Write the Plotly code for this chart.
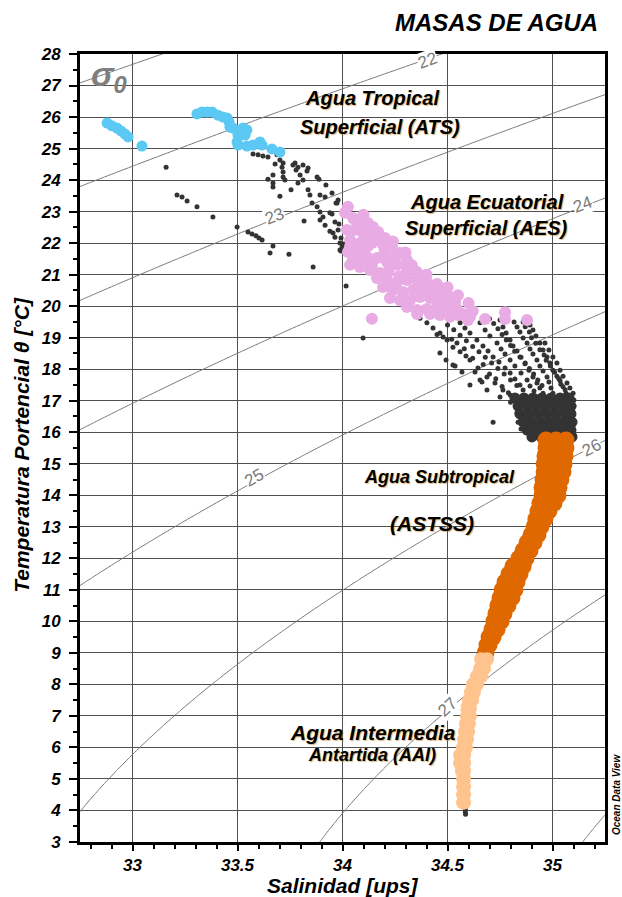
import numpy as np
import plotly.graph_objects as go

# ---------------- data ----------------
ats_S = [32.879, 32.902, 32.926, 32.945, 32.964, 32.979, 33.045,
         33.307, 33.331, 33.355, 33.379, 33.407, 33.431, 33.450, 33.460, 33.464, 33.479,
         33.502, 33.526, 33.545, 33.536, 33.498, 33.502, 33.545, 33.574, 33.607, 33.617,
         33.664, 33.702]
ats_T = [25.81, 25.72, 25.65, 25.56, 25.46, 25.37, 25.08,
         26.10, 26.16, 26.16, 26.16, 26.06, 26.00, 25.97, 25.84, 25.68, 25.65,
         25.43, 25.65, 25.59, 25.43, 25.21, 25.11, 25.08, 25.11, 25.21, 25.11,
         24.99, 24.89]

aes_S = [34.026, 34.012, 34.060, 34.021, 34.060, 34.093, 34.121, 34.145, 34.098, 34.131,
         34.179, 34.202, 34.036, 34.083, 34.140, 34.193, 34.236, 34.274, 34.307, 34.026,
         34.069, 34.117, 34.164, 34.212, 34.260, 34.307, 34.355, 34.036, 34.083, 34.131,
         34.179, 34.164, 34.212, 34.260, 34.307, 34.355, 34.402, 34.193, 34.240, 34.288,
         34.336, 34.383, 34.431, 34.479, 34.226, 34.274, 34.321, 34.369, 34.417, 34.464,
         34.512, 34.536, 34.307, 34.355, 34.402, 34.450, 34.498, 34.545, 34.574, 34.140,
         34.355, 34.417, 34.464, 34.512, 34.550, 34.598, 34.679, 34.774, 34.774, 34.879,
         34.393, 34.488, 34.607, 34.036, 34.050, 34.098, 34.117,
         34.050, 34.100, 34.170, 34.240, 34.300, 34.120, 34.200, 34.250, 34.330, 34.400,
         34.450, 34.300, 34.360, 34.500, 34.550, 34.600, 34.620, 34.400, 34.470, 34.520,
         34.090, 34.140, 34.220, 34.270]
aes_T = [23.15, 22.96, 22.73, 22.42, 22.42, 22.57, 22.64, 22.51, 22.32, 22.19,
         22.19, 22.16, 22.10, 22.00, 22.00, 21.94, 21.88, 21.69, 21.46, 21.72,
         21.69, 21.56, 21.53, 21.40, 21.31, 21.21, 21.08, 21.31, 21.24, 21.15,
         21.05, 20.89, 20.83, 20.77, 20.83, 20.83, 20.77, 20.61, 20.51, 20.45,
         20.51, 20.58, 20.51, 20.45, 20.26, 20.19, 20.19, 20.29, 20.26, 20.26,
         20.29, 20.13, 19.97, 19.88, 19.91, 19.97, 19.97, 19.91, 19.75, 19.60,
         19.75, 19.75, 19.72, 19.66, 19.72, 19.56, 19.59, 19.81, 19.59, 19.56,
         20.73, 20.51, 19.66, 21.89, 21.46, 21.78, 21.37,
         22.80, 22.90, 22.35, 22.05, 21.70, 21.90, 21.70, 21.55, 21.30, 21.00,
         20.70, 21.00, 20.95, 20.60, 20.35, 20.10, 19.85, 20.35, 20.10, 19.85,
         21.50, 21.30, 21.10, 20.95]

astss_S = [34.969, 35.017, 35.064,  34.969, 35.017, 35.064,  34.964, 35.012, 35.060,
           34.960, 35.007, 35.055,  34.960, 35.002, 35.050,  34.955, 34.998, 35.040,
           34.950, 34.988, 35.031,  34.950, 34.988, 35.026,  34.940, 34.974, 35.007,
           34.931, 34.960, 34.983,  34.921, 34.964,  34.912, 34.945,  34.898, 34.931,
           34.879, 34.912,  34.860, 34.893,  34.840, 34.874,  34.812, 34.860,
           34.793, 34.845,  34.774, 34.831,  34.760, 34.821,  34.750, 34.807,
           34.740, 34.788,  34.731, 34.769,  34.721, 34.755,  34.712, 34.736,
           34.698, 34.717,  34.688, 34.698,  34.679, 34.683,  34.674]
astss_T = [15.75, 15.75, 15.75,  15.50, 15.50, 15.50,  15.25, 15.25, 15.25,
           15.00, 15.00, 15.00,  14.75, 14.75, 14.75,  14.50, 14.50, 14.50,
           14.25, 14.25, 14.25,  14.00, 14.00, 14.00,  13.75, 13.75, 13.75,
           13.50, 13.50, 13.50,  13.25, 13.25,  13.00, 13.00,  12.75, 12.75,
           12.50, 12.50,  12.25, 12.25,  12.00, 12.00,  11.75, 11.75,
           11.50, 11.50,  11.25, 11.25,  11.00, 11.00,  10.75, 10.75,
           10.50, 10.50,  10.25, 10.25,  10.00, 10.00,  9.75, 9.75,
           9.50, 9.50,  9.25, 9.25,  9.00, 9.00,  8.80]

aai_S = [34.660, 34.688, 34.655, 34.674, 34.640, 34.660, 34.621, 34.640, 34.612, 34.626,
         34.602, 34.617, 34.593, 34.607, 34.593, 34.607, 34.588, 34.602, 34.583, 34.598,
         34.579, 34.593, 34.574, 34.588, 34.560, 34.579, 34.560, 34.579, 34.569, 34.579,
         34.574, 34.579, 34.574, 34.579, 34.574, 34.579, 34.574, 34.579]
aai_T = [8.80, 8.80, 8.50, 8.50, 8.25, 8.25, 8.00, 8.00, 7.75, 7.75,
         7.50, 7.50, 7.25, 7.25, 7.00, 7.00, 6.75, 6.75, 6.50, 6.50,
         6.25, 6.25, 6.00, 6.00, 5.75, 5.75, 5.50, 5.50, 5.25, 5.25,
         5.00, 5.00, 4.75, 4.75, 4.50, 4.50, 4.25, 4.25]

# other CTD samples (small black dots)
oth_S = [33.160, 33.212, 33.236, 33.260, 33.307, 33.383, 33.498, 33.550, 33.569, 33.588,
         33.602, 33.617, 33.669, 33.655, 33.745, 33.860, 33.993, 34.017, 34.098,
         33.574, 33.598, 33.621, 33.645, 33.688, 33.702, 33.717, 33.774, 33.788, 33.812,
         33.836, 33.679, 33.712, 33.717, 33.717, 33.726, 33.669, 33.669, 33.669, 33.645,
         33.702, 33.755, 33.764, 33.779, 33.798, 33.812, 33.831, 33.788, 33.836, 33.845,
         33.879, 33.888, 33.921, 33.893, 33.917, 33.950, 33.855, 33.879, 33.893, 33.907,
         33.974, 33.940, 33.817, 33.893, 33.917, 33.940, 33.964, 33.988, 33.955, 33.983,
         33.988, 33.998, 33.969, 33.979, 33.950, 33.964, 33.979, 33.993, 34.007,
         34.369, 34.402, 34.431, 34.464, 34.498, 34.526, 34.560, 34.588, 34.607, 34.645,
         34.688, 34.726, 34.764, 34.798, 34.831,
         34.464, 34.526, 34.545, 34.479, 34.655, 34.717, 34.688, 34.750, 34.831, 34.879,
         34.536, 34.664, 34.836, 34.893, 34.493, 34.569, 34.607, 34.631,
         34.560, 34.583, 34.607, 34.640, 34.669, 34.693, 34.717, 34.745, 34.774, 34.798,
         34.821, 34.845, 34.860,
         34.655, 34.679, 34.702, 34.736, 34.755, 34.774, 34.798, 34.821, 34.850, 34.879,
         34.893, 34.912, 34.926,
         34.750, 34.764, 34.779, 34.798, 34.812, 34.831, 34.845, 34.869, 34.888, 34.907,
         34.926, 34.940, 34.955,
         34.817, 34.831, 34.845, 34.860, 34.879, 34.893, 34.907, 34.926, 34.940, 34.955,
         34.974, 34.983, 34.993, 35.002,
         34.893, 34.907, 34.921, 34.940, 34.955, 34.974, 34.988, 35.002, 35.021, 35.036,
         35.050, 35.064,
         34.964, 34.983, 35.002, 35.021, 35.036, 35.050, 35.069, 35.083, 35.098, 35.102,
         35.102,
         34.500, 34.530, 34.560, 34.590, 34.620, 34.650, 34.680, 34.710, 34.740, 34.770,
         34.800, 34.830,
         34.700, 34.720, 34.740, 34.760, 34.780, 34.800, 34.820, 34.850, 34.870, 34.890,
         34.910, 34.930, 34.950,
         34.860, 34.870, 34.890, 34.900, 34.920, 34.940, 34.960, 34.970, 34.990, 35.010,
         35.030, 35.040, 35.060,
         34.450, 34.520, 34.580, 34.620, 34.670, 34.700, 34.730, 34.760, 34.790, 34.800,
         34.840, 34.860, 34.880, 34.850,
         34.585, 34.585, 34.586]
oth_T = [24.41, 23.53, 23.46, 23.34, 23.15, 22.83, 22.51, 22.35, 22.29, 22.23,
         22.16, 22.10, 21.91, 21.69, 21.65, 21.24, 21.75, 20.64, 18.99,
         24.83, 24.80, 24.76, 24.73, 24.80, 24.64, 24.54, 24.54, 24.41, 24.48,
         24.38, 24.51, 24.41, 24.26, 24.10, 24.00, 24.16, 23.91, 23.78, 24.03,
         23.49, 23.69, 24.48, 24.32, 24.16, 24.00, 24.29, 23.91, 23.69, 23.53,
         24.10, 24.03, 23.84, 23.53, 23.46, 23.59, 23.27, 23.15, 22.99, 22.83,
         23.27, 22.96, 22.70, 22.73, 22.57, 22.38, 22.19, 22.00, 22.32, 22.61,
         21.78, 21.88, 23.27, 23.37, 22.92, 22.67, 22.42, 22.16, 21.97,
         19.62, 19.47, 19.31, 19.15, 18.93, 18.70, 18.55, 18.42, 18.29, 18.04,
         17.75, 17.56, 17.34, 17.18, 17.02,
         18.51, 18.13, 18.83, 19.02, 17.66, 16.32, 17.34, 17.12, 16.61, 16.29,
         18.10, 17.59, 16.32, 15.85, 18.29, 17.91, 17.50, 17.91,
         19.47, 19.31, 19.15, 18.93, 18.74, 18.58, 18.39, 18.23, 18.04, 17.88,
         17.69, 17.50, 17.34,
         19.47, 19.24, 19.05, 18.83, 18.64, 18.48, 18.29, 18.10, 17.88, 17.66,
         17.47, 17.31, 17.12,
         19.56, 19.34, 19.15, 18.93, 18.74, 18.58, 18.39, 18.17, 17.97, 17.75,
         17.56, 17.40, 17.24,
         19.50, 19.34, 19.18, 18.99, 18.83, 18.64, 18.48, 18.29, 18.10, 17.94,
         17.75, 17.59, 17.40, 17.24,
         19.40, 19.24, 19.05, 18.83, 18.61, 18.39, 18.20, 17.97, 17.78, 17.63,
         17.44, 17.24,
         18.83, 18.61, 18.39, 18.20, 17.97, 17.78, 17.56, 17.40, 17.24, 17.02,
         16.83,
         19.40, 19.25, 19.08, 18.90, 18.72, 18.55, 18.38, 18.20, 18.02, 17.85,
         17.66, 17.48,
         19.60, 19.45, 19.28, 19.10, 18.93, 18.75, 18.57, 18.38, 18.20, 18.02,
         17.85, 17.66, 17.48,
         19.50, 19.35, 19.18, 19.00, 18.82, 18.62, 18.45, 18.28, 18.10, 17.90,
         17.70, 17.52, 17.35,
         19.10, 18.95, 18.65, 18.35, 18.15, 17.85, 17.70, 17.45, 17.25, 16.95,
         16.80, 16.55, 16.40, 16.10,
         4.05, 3.95, 3.88]

# dense packing of samples just above the subtropical water
dense_S = [34.821, 34.864, 34.907, 34.950, 34.993, 35.036, 35.079,
           34.836, 34.879, 34.921, 34.964, 35.007, 35.050, 35.088,
           34.845, 34.888, 34.931, 34.974, 35.017, 35.060, 35.088,
           34.860, 34.902, 34.945, 34.988, 35.031, 35.069, 35.093,
           34.879, 34.921, 34.964, 35.007, 35.050, 35.088,
           34.902, 34.945, 34.988, 35.031, 35.074, 35.093]
dense_T = [17.09] * 7 + [16.83] * 7 + [16.58] * 7 + [16.32] * 7 + [16.07] * 6 + [15.85] * 6

sigma_levels = [21, 22, 23, 24, 25, 26, 27, 28]
sigma_labels = ["22", "23", "24", "25", "26", "27"]
sigma_label_S = [34.407, 33.674, 35.145, 33.583, 35.188, 34.498]
sigma_label_T = [27.80, 22.86, 23.24, 14.55, 15.53, 7.28]
sigma_label_ang = [-20, -21, -20, -30, -27, -42]

x_ticks = [33, 33.5, 34, 34.5, 35]
x_ticktext = ["33", "33.5", "34", "34.5", "35"]
y_ticks = list(range(3, 29))

# ---------------- density field (UNESCO EOS-80, p = 0) ----------------
def sigma0(S, T):
    rw = (999.842594 + 6.793952e-2 * T - 9.095290e-3 * T**2 + 1.001685e-4 * T**3
          - 1.120083e-6 * T**4 + 6.536332e-9 * T**5)
    A = 8.24493e-1 - 4.0899e-3 * T + 7.6438e-5 * T**2 - 8.2467e-7 * T**3 + 5.3875e-9 * T**4
    B = -5.72466e-3 + 1.0227e-4 * T - 1.6546e-6 * T**2
    C = 4.8314e-4
    return rw + A * S + B * S**1.5 + C * S**2 - 1000.0

gS = np.linspace(32.6, 35.4, 141)
gT = np.linspace(2.5, 28.5, 131)
SS, TT = np.meshgrid(gS, gT)
Z = sigma0(SS, TT)

FONT = "Liberation Sans, Arial, sans-serif"

fig = go.Figure()
fig.add_trace(go.Contour(
    x=gS, y=gT, z=Z, showscale=False, hoverinfo="skip",
    contours=dict(start=sigma_levels[0], end=sigma_levels[-1], size=1, coloring="none", showlabels=False),
    line=dict(color="#7a7a7a", width=1), ncontours=8))

fig.add_trace(go.Scatter(x=oth_S, y=oth_T, mode="markers", hoverinfo="skip",
                         marker=dict(color="#333333", size=5, line=dict(width=0))))
fig.add_trace(go.Scatter(x=dense_S, y=dense_T, mode="markers", hoverinfo="skip",
                         marker=dict(color="#333333", size=11, line=dict(width=0))))
fig.add_trace(go.Scatter(x=aes_S, y=aes_T, mode="markers", hoverinfo="skip",
                         marker=dict(color="#E8ABE3", size=12, line=dict(width=0))))
fig.add_trace(go.Scatter(x=ats_S, y=ats_T, mode="markers", hoverinfo="skip",
                         marker=dict(color="#5CC8F4", size=11, line=dict(width=0))))
fig.add_trace(go.Scatter(x=astss_S, y=astss_T, mode="markers", hoverinfo="skip",
                         marker=dict(color="#E06800", size=17, line=dict(width=0))))
fig.add_trace(go.Scatter(x=aai_S, y=aai_T, mode="markers", hoverinfo="skip",
                         marker=dict(color="#FFC38E", size=14, line=dict(width=0))))

tickfont = dict(family=FONT, size=17, color="black", weight="bold", style="italic")

fig.update_xaxes(range=[32.75, 35.25], tickvals=x_ticks, ticktext=x_ticktext,
                 ticks="outside", ticklen=6, tickwidth=1.5, tickcolor="black",
                 minor=dict(dtick=0.1, ticks="outside", ticklen=4, tickcolor="black", showgrid=False),
                 showgrid=True, gridcolor="#505050", gridwidth=1,
                 showline=True, linecolor="black", linewidth=3, mirror=True,
                 tickfont=tickfont, zeroline=False)
fig.update_yaxes(range=[3, 28], tickvals=y_ticks,
                 ticks="outside", ticklen=8, tickwidth=1.5, tickcolor="black",
                 minor=dict(dtick=0.5, ticks="outside", ticklen=4, tickcolor="black", showgrid=False),
                 showgrid=True, gridcolor="#505050", gridwidth=1,
                 showline=True, linecolor="black", linewidth=3, mirror=True,
                 ticklabelstandoff=5,
                 tickfont=tickfont, zeroline=False)

ann = []
shadow = "1px 1px 1px rgba(190,120,20,0.55)"
def lab(text, s, t, size):
    ann.append(dict(x=s, y=t, xref="x", yref="y", text=text, showarrow=False,
                    font=dict(family=FONT, size=size, color="black", weight="bold",
                              style="italic", shadow=shadow)))

lab("Agua Tropical", 34.140, 26.60, 20)
lab("Superficial (ATS)", 34.179, 25.68, 20)
lab("Agua Ecuatorial", 34.688, 23.30, 20)
lab("Superficial (AES)", 34.688, 22.48, 20)
lab("Agua Subtropical", 34.460, 14.58, 18)
lab("(ASTSS)", 34.426, 13.12, 21)
lab("Agua Intermedia", 34.145, 6.49, 21)
lab("Antartida (AAI)", 34.140, 5.76, 18)

for txt, s, t, a in zip(sigma_labels, sigma_label_S, sigma_label_T, sigma_label_ang):
    ann.append(dict(x=s, y=t, xref="x", yref="y", text=txt, showarrow=False, textangle=a,
                    bgcolor="white", borderpad=0,
                    font=dict(family=FONT, size=17, color="#7a7a7a")))

ann.append(dict(x=0.055, y=0.972, xref="paper", yref="paper", text="σ<sub>0</sub>",
                showarrow=False, xanchor="center", yanchor="middle",
                font=dict(family=FONT, size=34, color="#7f7f7f",
                          weight="bold", style="italic")))
ann.append(dict(x=0.9905, y=1.0406, xref="paper", yref="paper", text="MASAS DE AGUA",
                showarrow=False, xanchor="right", yanchor="middle",
                font=dict(family=FONT, size=24, color="black", weight="bold", style="italic")))
ann.append(dict(x=0.501, y=-0.0546, xref="paper", yref="paper", text="Salinidad [ups]",
                showarrow=False, xanchor="center", yanchor="middle",
                font=dict(family=FONT, size=21, color="black", weight="bold", style="italic")))
ann.append(dict(x=-0.1105, y=0.504, xref="paper", yref="paper",
                text="Temperatura Portencial θ [°C]", textangle=-90,
                showarrow=False, xanchor="center", yanchor="middle",
                font=dict(family=FONT, size=21, color="black", weight="bold", style="italic")))
ann.append(dict(x=1.021, y=0.0596, xref="paper", yref="paper", text="Ocean Data View",
                textangle=-90, showarrow=False, xanchor="center", yanchor="middle",
                font=dict(family=FONT, size=10, color="black", weight="bold", style="italic")))

fig.update_layout(width=622, height=897, margin=dict(l=80, r=17, t=54, b=55),
                  paper_bgcolor="white", plot_bgcolor="white", showlegend=False,
                  annotations=ann)

fig.write_html("out.html")
